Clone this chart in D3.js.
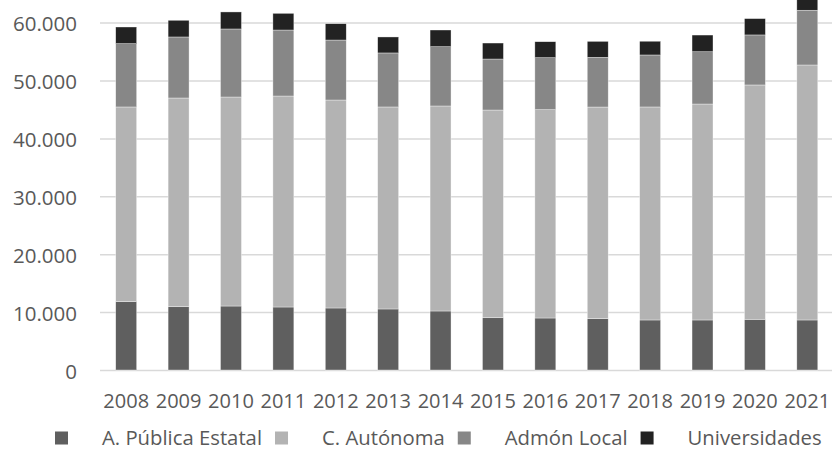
<!DOCTYPE html>
<html>
<head>
<meta charset="utf-8">
<script src="https://cdn.jsdelivr.net/npm/d3@7"></script>
<style>
  html, body { margin: 0; padding: 0; background: #fff; }
  svg { display: block; }
  text { font-family: "Open Sans", sans-serif; fill: #595959; }
</style>
</head>
<body>
<svg id="chart" width="832" height="465"></svg>
<script>
const years = ["2008","2009","2010","2011","2012","2013","2014","2015","2016","2017","2018","2019","2020","2021"];
const seriesNames = ["A. Pública Estatal", "C. Autónoma", "Admón Local", "Universidades"];
const estatal      = [11800, 10930, 11050, 10880, 10710, 10540, 10190, 9030, 8980, 8860, 8640, 8640, 8760, 8640];
const autonoma     = [33630, 36050, 36100, 36440, 35920, 34890, 35410, 35870, 35980, 36560, 36790, 37300, 40470, 44040];
const local        = [10930, 10540, 11750, 11400, 10360, 9330, 10240, 8810, 8980, 8580, 8980, 9030, 8640, 9450];
const universidades= [2880, 2880, 2940, 2880, 2820, 2760, 2880, 2760, 2760, 2760, 2370, 2880, 2820, 2820];
const yTicks = [0, 10000, 20000, 30000, 40000, 50000, 60000];
const yTickLabels = ["0", "10.000", "20.000", "30.000", "40.000", "50.000", "60.000"];
const colors = ["#5f5f5f", "#b3b3b3", "#878787", "#222222"];

const svg = d3.select("#chart");
const W = 832, H = 465;
const mLeft = 100, mRight = 833.5, mTop = 22.6, mBottom = 370;

const x = d3.scaleBand().domain(years).range([mLeft, mRight]).paddingInner(0.6).paddingOuter(0.3);
const y = d3.scaleLinear().domain([0, 60000]).range([mBottom, mTop]);

const rows = years.map((yr, i) => ({
  year: yr,
  [seriesNames[0]]: estatal[i],
  [seriesNames[1]]: autonoma[i],
  [seriesNames[2]]: local[i],
  [seriesNames[3]]: universidades[i]
}));
const stacked = d3.stack().keys(seriesNames)(rows);

// gridlines
const yAxis = d3.axisLeft(y).tickValues(yTicks).tickSize(-(W - mLeft)).tickFormat((d, i) => yTickLabels[i]);
const gY = svg.append("g").attr("transform", `translate(${mLeft},0)`).call(yAxis);
gY.select(".domain").remove();
gY.selectAll(".tick line").attr("stroke", "#d9d9d9").attr("stroke-width", 1.5);
gY.selectAll(".tick text")
  .attr("x", -23).attr("dy", "0.4em")
  .style("font-size", "20.5px").style("font-family", "'Open Sans', sans-serif").attr("fill", "#595959");

// bars
svg.append("g").selectAll("g")
  .data(stacked).join("g")
  .attr("fill", (d, i) => colors[i])
  .selectAll("rect")
  .data(d => d).join("rect")
  .attr("x", d => x(d.data.year))
  .attr("width", x.bandwidth())
  .attr("y", d => y(d[1]))
  .attr("height", d => y(d[0]) - y(d[1]))
  .attr("stroke", "#ffffff").attr("stroke-width", 0.6).attr("stroke-opacity", 0.6);

// x axis labels
const xAxis = d3.axisBottom(x).tickSize(0).tickPadding(0);
const gX = svg.append("g").attr("transform", `translate(0,${mBottom})`).call(xAxis);
gX.select(".domain").remove();
gX.selectAll(".tick text")
  .attr("y", 37.5).attr("dy", 0)
  .style("font-size", "20px").style("font-family", "'Open Sans', sans-serif").attr("fill", "#595959");

// legend
const legend = svg.append("g");
let lx = 55;
const ly = 445;
seriesNames.forEach((name, i) => {
  legend.append("rect").attr("x", lx).attr("y", ly - 13.5).attr("width", 13).attr("height", 13).attr("fill", colors[i]);
  const t = legend.append("text").attr("x", lx + 47).attr("y", ly)
    .style("font-size", "20.3px").text(name);
  const w = t.node().getComputedTextLength();
  lx = lx + 47 + w + 13;
});
</script>
</body>
</html>
